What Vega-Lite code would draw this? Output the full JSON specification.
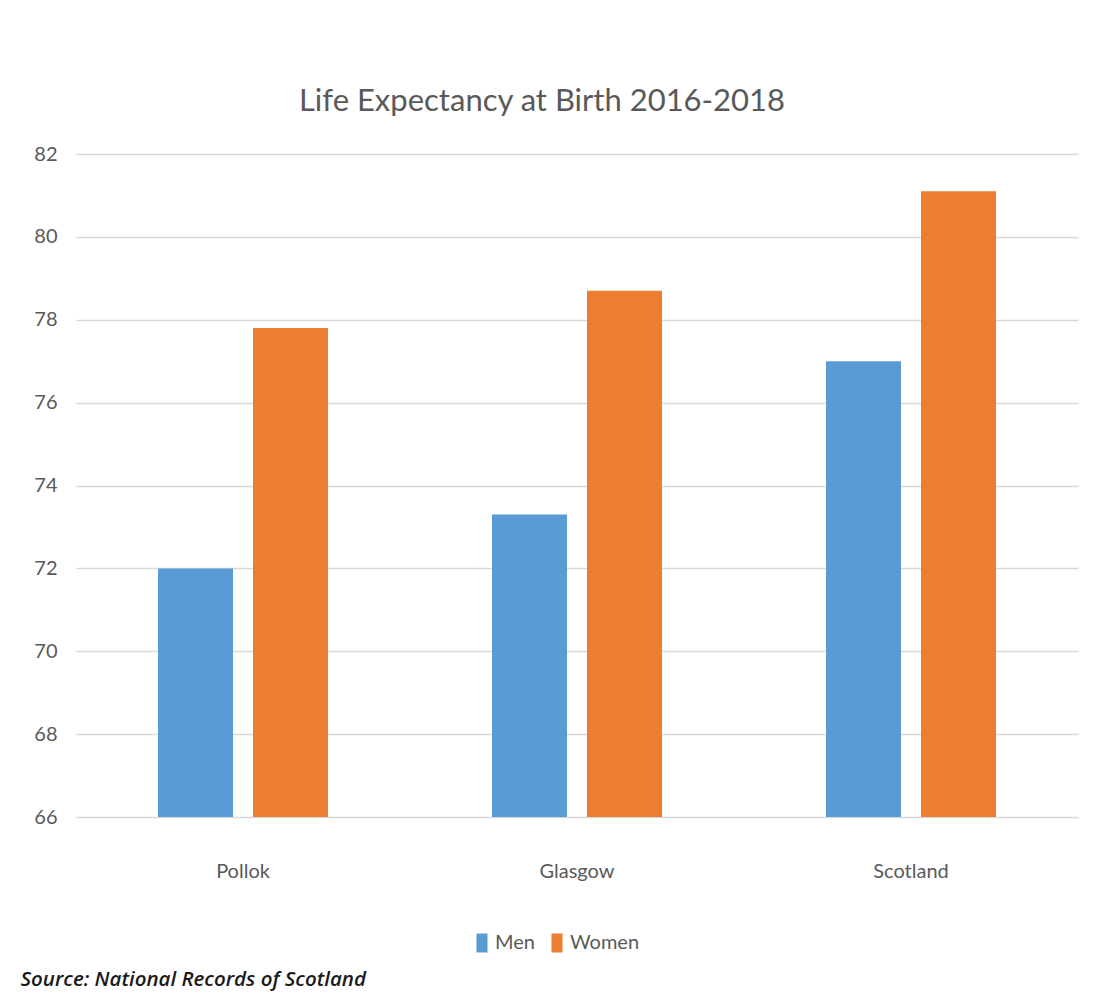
{
  "$schema": "https://vega.github.io/schema/vega-lite/v6.json",
  "width": 1002,
  "height": 663,
  "autosize": {"type": "none"},
  "padding": {"left": 76, "top": 154, "right": 17, "bottom": 178},
  "background": "#ffffff",
  "title": {
    "text": "Life Expectancy at Birth 2016-2018",
    "font": "Lato, sans-serif",
    "fontSize": 31,
    "fontWeight": "normal",
    "color": "#595959",
    "anchor": "middle",
    "baseline": "alphabetic",
    "dx": -35,
    "offset": 2
  },
  "data": {
    "values": [
      {"Area": "Pollok", "Sex": "Men", "Life": 72.0},
      {"Area": "Pollok", "Sex": "Women", "Life": 77.8},
      {"Area": "Glasgow", "Sex": "Men", "Life": 73.3},
      {"Area": "Glasgow", "Sex": "Women", "Life": 78.7},
      {"Area": "Scotland", "Sex": "Men", "Life": 77.0},
      {"Area": "Scotland", "Sex": "Women", "Life": 81.1}
    ]
  },
  "mark": {"type": "bar", "clip": true},
  "encoding": {
    "x": {
      "field": "Area",
      "type": "nominal",
      "sort": ["Pollok", "Glasgow", "Scotland"],
      "scale": {"paddingInner": 0.491, "paddingOuter": 0.2455},
      "axis": {
        "title": "Source: National  Records of Scotland",
        "titleFont": "Open Sans, DejaVu Sans, sans-serif",
        "titleFontStyle": "italic",
        "titleFontWeight": 600,
        "titleFontSize": 20.5,
        "titleColor": "#1a1a1a",
        "titleAlign": "left",
        "titleAnchor": "start",
        "titleBaseline": "alphabetic",
        "titleX": -56,
        "titleY": 168,
        "labelAngle": 0,
        "labelFont": "Lato, sans-serif",
        "labelFontSize": 20,
        "labelColor": "#595959",
        "labelPadding": 44,
        "ticks": false,
        "domain": false,
        "grid": false
      }
    },
    "xOffset": {
      "field": "Sex",
      "type": "nominal",
      "scale": {"paddingInner": 0.2105, "paddingOuter": 0}
    },
    "y": {
      "field": "Life",
      "type": "quantitative",
      "scale": {"domain": [66, 82], "zero": false, "nice": false},
      "axis": {
        "title": null,
        "values": [66, 68, 70, 72, 74, 76, 78, 80, 82],
        "labelFont": "Lato, sans-serif",
        "labelFontSize": 20,
        "labelColor": "#595959",
        "labelPadding": 19,
        "ticks": false,
        "domain": false,
        "grid": true,
        "gridColor": "#D9D9D9",
        "gridWidth": 1.3
      }
    },
    "color": {
      "field": "Sex",
      "type": "nominal",
      "scale": {"domain": ["Men", "Women"], "range": ["#5B9BD5", "#ED7D31"]},
      "legend": {
        "title": null,
        "orient": "none",
        "direction": "horizontal",
        "legendX": 396,
        "legendY": 779,
        "padding": 0,
        "symbolType": "M-0.58,-1H0.58V1H-0.58Z",
        "symbolSize": 361,
        "symbolStrokeWidth": 0,
        "labelOffset": 3,
        "columnPadding": 12,
        "labelFont": "Lato, sans-serif",
        "labelFontSize": 20,
        "labelColor": "#595959"
      }
    }
  },
  "config": {
    "view": {"stroke": null}
  }
}
